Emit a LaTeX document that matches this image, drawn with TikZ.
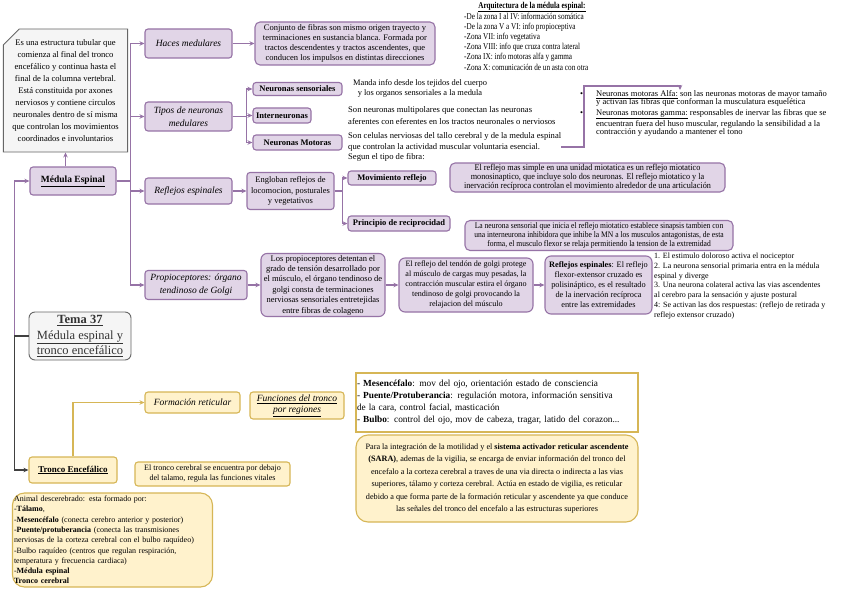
\documentclass[tikz,border=0pt]{standalone}
\usepackage{fontspec}
\setmainfont{Liberation Serif}
\usetikzlibrary{arrows.meta, positioning, shapes.misc}
\definecolor{medpurple}{HTML}{9673A6}
\definecolor{medfill}{HTML}{E1D5E7}
\definecolor{troncoline}{HTML}{D6B656}
\definecolor{troncofill}{HTML}{FFF2CC}
\definecolor{temaline}{HTML}{666666}
\definecolor{temafill}{HTML}{F5F5F5}
\newcommand{\fsz}[2]{\fontsize{#1}{#2}\selectfont}

\begin{document}
\begin{tikzpicture}[x=1pt, y=-1pt,
  pbox/.style={draw=medpurple, fill=medfill, line width=1.1pt, rounded corners=3pt, align=center, inner sep=1pt},
  ybox/.style={draw=troncoline, fill=troncofill, line width=1.1pt, rounded corners=3pt, align=center, inner sep=1pt},
  gbox/.style={draw=temaline, fill=temafill, line width=0.9pt, align=center, inner sep=1pt},
  plain/.style={align=left, inner sep=0pt},
  link/.style={draw=medpurple, line width=1.1pt, -{Stealth[length=5pt, width=4.5pt]}},
  ylink/.style={link, draw=troncoline},
  klink/.style={link, draw=black!75}
]
  \fill[white] (0,0) rectangle (848,599);
  \useasboundingbox (0,0) rectangle (848,599);

  % medula espinal
  \node[gbox, chamfered rectangle, chamfered rectangle corners=north west, chamfered rectangle xsep=8pt, chamfered rectangle ysep=8pt, minimum width=117pt, minimum height=123pt, font=\fsz{8.6}{11.9}] (note) at (65.5,90.5) {Es una estructura tubular que\\comienza al final del tronco\\encefálico y continua hasta el\\final de la columna vertebral.\\Está constituida por axones\\nerviosos y contiene circulos\\neuronales dentro de sí misma\\que controlan los movimientos\\coordinados e involuntarios};
  \node[pbox, minimum width=86pt, minimum height=28pt, font=\fsz{9.5}{11}\bfseries] (med) at (73,181) {\underline{Médula Espinal}};

  \node[pbox, minimum width=87pt, minimum height=29pt, font=\fsz{9.5}{13}\itshape] (haces) at (188.5,43.5) {Haces medulares};
  \node[pbox, minimum width=87pt, minimum height=29pt, font=\fsz{9.5}{13}\itshape] (tipos) at (188.5,116.5) {Tipos de neuronas\\medulares};
  \node[pbox, minimum width=87pt, minimum height=26pt, font=\fsz{9.5}{13}\itshape] (reflejos) at (188.5,191) {Reflejos espinales};
  \node[pbox, minimum width=102pt, minimum height=29pt, font=\fsz{9.5}{13}\itshape] (propio) at (196,285) {Propioceptores: órgano\\tendinoso de Golgi};

  % haces
  \node[pbox, rounded corners=5pt, minimum width=180pt, minimum height=43pt, font=\fsz{8.5}{10}] (hacesinfo) at (345,43.5) {Conjunto de fibras son mismo origen trayecto y\\terminaciones en sustancia blanca. Formada por\\tractos descendentes y tractos ascendentes, que\\conducen los impulsos en distintas direcciones};

  % arquitectura
  \node[plain, font={\fsz{9}{10.2}\bfseries\addfontfeatures{FakeStretch=0.8}}] (arqtitle) at (532,7) {\underline{Arquitectura de la médula espinal:}};
  \node[plain, anchor=north west, font={\fsz{9}{10.2}\addfontfeatures{FakeStretch=0.8}}] (arq) at (464,12.5) {-De la zona I al IV: información somática\\-De la zona V a VI: info propioceptiva\\-Zona VII: info vegetativa\\-Zona VIII: info que cruza contra lateral\\-Zona IX: info motoras alfa y gamma\\-Zona X: comunicación de un asta con otra};

  % tipos de neuronas
  \node[pbox, minimum width=89pt, minimum height=13pt, font=\fsz{8.5}{10}\bfseries] (sens) at (297.5,89) {Neuronas sensoriales};
  \node[pbox, minimum width=58pt, minimum height=15pt, font=\fsz{8.5}{10}\bfseries] (inter) at (282,115.5) {Interneuronas};
  \node[pbox, minimum width=89pt, minimum height=15pt, font=\fsz{8.5}{10}\bfseries] (mot) at (297.5,142.5) {Neuronas Motoras};

  \node[plain, align=center, font=\fsz{8.4}{10}] (sensinfo) at (420,88) {Manda info desde los tejidos del cuerpo\\y los organos sensoriales a la medula};
  \node[plain, anchor=west, font=\fsz{8.6}{12}] (interinfo) at (348,116) {Son neuronas multipolares que conectan las neuronas\\aferentes con eferentes en los tractos neuronales o nerviosos};
  \node[plain, anchor=west, font=\fsz{8.6}{10.2}] (motinfo) at (348,147) {Son celulas nerviosas del tallo cerebral y de la medula espinal\\que controlan la actividad muscular voluntaria esencial.\\Segun el tipo de fibra:};

  \node[plain, anchor=north west, font=\fsz{8.5}{8.7}] (motlist) at (578,90) {\makebox[18pt][l]{\hspace{2pt}\textbullet}\underline{Neuronas motoras Alfa:} son las neuronas motoras de mayor tamaño\\
    \hspace*{18pt}y activan las fibras que conforman la musculatura esquelética\\[1.8pt]
    \makebox[18pt][l]{\hspace{2pt}\textbullet}\underline{Neuronas motoras gamma:} responsables de inervar las fibras que se\\
    \hspace*{18pt}encuentran fuera del huso muscular, regulando la sensibilidad a la\\
    \hspace*{18pt}contracción y ayudando a mantener el tono};
  \coordinate (motturn) at (584,86);
  \coordinate (motdrop) at (680,86);

  % reflejos
  \node[pbox, minimum width=87pt, minimum height=37pt, font=\fsz{8.5}{10.5}] (engl) at (290.5,191) {Engloban reflejos de\\locomocion, posturales\\y vegetativos};
  \node[pbox, minimum width=88pt, minimum height=14pt, font=\fsz{8.5}{10}\bfseries] (movref) at (392,178) {Movimiento reflejo};
  \node[pbox, minimum width=102pt, minimum height=15pt, font=\fsz{8.5}{10}\bfseries] (princ) at (399,223.5) {Principio de reciprocidad};
  \node[pbox, rounded corners=5pt, minimum width=275pt, minimum height=29pt, font={\fsz{8.8}{8.8}\addfontfeatures{FakeStretch=0.93}}] (movinfo) at (587.5,177.5) {El reflejo mas simple en una unidad miotatica es un reflejo miotatico\\monosinaptico, que incluye solo dos neuronas. El reflejo miotatico y la\\inervación recíproca controlan el movimiento alrededor de una articulación};
  \node[pbox, rounded corners=5pt, minimum width=268pt, minimum height=30pt, font={\fsz{8.5}{9}\addfontfeatures{FakeStretch=0.89}}] (princinfo) at (599,235.5) {La neurona sensorial que inicia el reflejo miotatico establece sinapsis tambien con\\una interneurona inhibidora que inhibe la MN a los musculos antagonistas, de esta\\forma, el musculo flexor se relaja permitiendo la tension de la extremidad};

  % propioceptores
  \node[pbox, rounded corners=6pt, minimum width=124pt, minimum height=63pt, font=\fsz{8.5}{10.4}] (propinfo) at (323,285) {Los propioceptores detentan el\\grado de tensión desarrollado por\\el músculo, el órgano tendinoso de\\golgi consta de terminaciones\\nerviosas sensoriales entretejidas\\entre fibras de colageno};
  \node[pbox, rounded corners=6pt, minimum width=134pt, minimum height=54pt, font=\fsz{8.1}{10}] (golgi) at (466,285) {El reflejo del tendón de golgi protege\\al músculo de cargas muy pesadas, la\\contracción muscular estira el órgano\\tendinoso de golgi provocando la\\relajacion del músculo};
  \node[pbox, rounded corners=6pt, minimum width=107pt, minimum height=58pt, font=\fsz{8.3}{10}] (cruzado) at (598.5,285) {\textbf{Reflejos espinales}: El reflejo\\flexor-extensor cruzado es\\polisináptico, es el resultado\\de la inervación recíproca\\entre las extremidades};
  \node[plain, anchor=west, font=\fsz{8}{9.8}] (pasos) at (654,286) {1. El estimulo doloroso activa el nociceptor\\2. La neurona sensorial primaria entra en la médula\\espinal y diverge\\3. Una neurona colateral activa las vias ascendentes\\al cerebro para la sensación y ajuste postural\\4: Se activan las dos respuestas: (reflejo de retirada y\\reflejo extensor cruzado)};

  % tema
  \node[gbox, rounded corners=6pt, minimum width=102pt, minimum height=48pt, text=black!80, font=\fsz{12.5}{15.5}] (tema) at (80,336) {\underline{\textbf{Tema 37}}\\\underline{Médula espinal y}\\\underline{tronco encefálico}};

  % tronco encefalico
  \node[ybox, minimum width=88pt, minimum height=26pt, font=\fsz{9}{11}\bfseries] (tronco) at (73,470) {\underline{Tronco Encefálico}};
  \node[ybox, minimum width=95pt, minimum height=21pt, font=\fsz{9.5}{11}\itshape] (formret) at (192.5,402.5) {Formación reticular};
  \node[ybox, minimum width=94pt, minimum height=27pt, font=\fsz{9.5}{11}\itshape] (funciones) at (297,405.5) {\underline{Funciones del tronco}\\\underline{por regiones}};
  \node[draw=troncoline, fill=white, line width=1.1pt, align=left, text width=280pt, minimum height=59pt, inner sep=1pt, font=\fsz{9.3}{12}] (regiones) at (497,402.5) {- \textbf{Mesencéfalo}: mov del ojo, orientación estado de consciencia\\- \textbf{Puente/Protuberancia}: regulación motora, información sensitiva\\de la cara, control facial, masticación\\- \textbf{Bulbo}: control del ojo, mov de cabeza, tragar, latido del corazon...};
  \node[ybox, rounded corners=12pt, minimum width=282pt, minimum height=87pt, font=\fsz{8.2}{12.5}] (sara) at (497,478.5) {Para la integración de la motilidad y el \textbf{sistema activador reticular ascendente}\\\textbf{(SARA)}, ademas de la vigilia, se encarga de enviar información del tronco del\\encefalo a la corteza cerebral a traves de una via directa o indirecta a las vias\\superiores, tálamo y corteza cerebral. Actúa en estado de vigilia, es reticular\\debido a que forma parte de la formación reticular y ascendente ya que conduce\\las señales del tronco del encefalo a las estructuras superiores};
  \node[ybox, minimum width=155pt, minimum height=24pt, font=\fsz{8.1}{10}] (troncoinfo) at (212.5,474) {El tronco cerebral se encuentra por debajo\\del talamo, regula las funciones vitales};
  \node[ybox, rounded corners=12pt, align=left, text width=197pt, minimum height=94pt, inner sep=1.5pt, font=\fsz{8}{10.3}] (animal) at (112.5,540) {Animal descerebrado: esta formado por:\\-\textbf{Tálamo},\\-\textbf{Mesencéfalo} (conecta cerebro anterior y posterior)\\-\textbf{Puente/protuberancia} (conecta las transmisiones\\nerviosas de la corteza cerebral con el bulbo raquídeo)\\-Bulbo raquídeo (centros que regulan respiración,\\temperatura y frecuencia cardiaca)\\-\textbf{Médula espinal}\\\textbf{Tronco cerebral}};

  % connectors
  \draw[link] (tema.west) -- ++(-14,0) |- (med.west);
  \draw[klink] (tema.west) -- ++(-14,0) |- (tronco.west);
  \draw[link] (med.north -| note.south) -- (note.south);
  \foreach \n in {haces, tipos, reflejos, propio}
    \draw[link] (med.east) -- ++(14,0) |- (\n.west);
  \draw[link] (haces) -- (hacesinfo);
  \foreach \n in {sens, inter, mot}
    \draw[link] (tipos.east) -- ++(14,0) |- (\n.west);
  \draw[link] (motinfo.east) -| (motturn) -- (motdrop) -- (motdrop |- motlist.north);
  \draw[link] (reflejos) -- (engl);
  \foreach \n in {movref, princ}
    \draw[link] (engl.east) -- ++(8,0) |- (\n.west);
  \draw[link] (propio) -- (propinfo);
  \draw[link] (propinfo) -- (golgi);
  \draw[link] (golgi) -- (cruzado);
  \draw[ylink] (tronco.north) |- (formret.west);
\end{tikzpicture}
\end{document}
